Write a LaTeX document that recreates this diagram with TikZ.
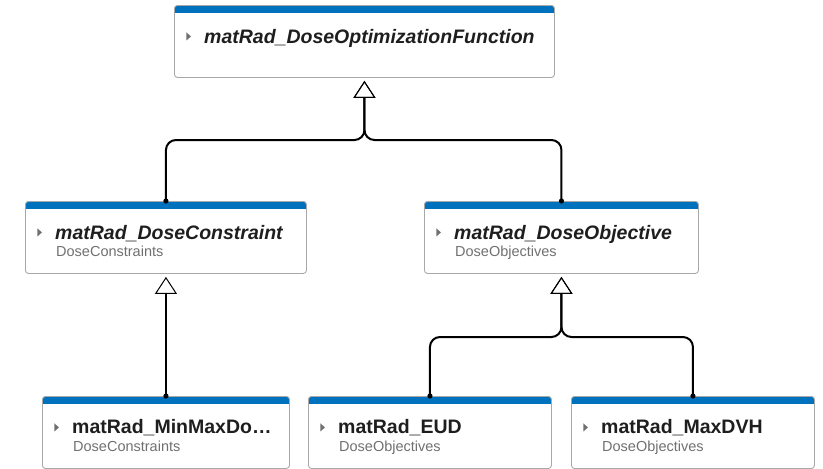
\documentclass[tikz,border=0pt]{standalone}
\usepackage{fontspec}
\setmainfont{Liberation Sans}
\usetikzlibrary{arrows.meta}
\definecolor{barblue}{HTML}{0072BD}
\definecolor{boxgray}{HTML}{A8A8A8}
\definecolor{subgray}{HTML}{707070}
\definecolor{titleblack}{HTML}{1E1E1E}

\begin{document}
\begin{tikzpicture}[x=1pt,y=-1pt,
    cls/.style={rectangle, draw=boxgray, line width=0.9pt, rounded corners=3pt, anchor=north west,
      minimum height=72pt, minimum width=#1, inner sep=0pt,
      path picture={
        \fill[barblue, sharp corners] (path picture bounding box.north west) rectangle ([yshift=-8pt]path picture bounding box.north east);
        \fill[subgray, sharp corners] ([xshift=12pt,yshift=-27pt]path picture bounding box.north west) -- ++(4.5pt,-4pt) -- ++(-4.5pt,-4pt) -- cycle;}},
    abs/.style={anchor=base west, inner sep=0pt, text=titleblack, font=\fontsize{19.5}{23}\selectfont\bfseries\itshape},
    con/.style={abs, font=\fontsize{19.5}{23}\selectfont\bfseries},
    pkg/.style={anchor=base west, inner sep=0pt, text=subgray, font=\fontsize{14.5}{17}\selectfont},
    gen/.style={line width=2pt, rounded corners=10pt, shorten >=3pt,
      -{Triangle[open, length=17pt, width=22pt, line width=1pt]}}]

  \useasboundingbox (0,0) rectangle (823,469);

  % classes
  \node[cls=380pt] (fn) at (174,5) {};
  \node[cls=281pt] (dc) at (25,201) {};
  \node[cls=274pt] (do) at (424,201) {};
  \node[cls=247pt] (mm) at (42,396) {};
  \node[cls=243pt] (eud) at (308,396) {};
  \node[cls=243pt] (mdvh) at (571,396) {};

  \node[abs] (fnT) at ([xshift=30pt,yshift=-38pt]fn.north west) {matRad\_DoseOptimizationFunction};

  \node[abs] (dcT) at ([xshift=30pt,yshift=-38pt]dc.north west) {matRad\_DoseConstraint};
  \node[pkg] (dcP) at ([xshift=31pt,yshift=-55pt]dc.north west) {DoseConstraints};

  \node[abs] (doT) at ([xshift=30pt,yshift=-38pt]do.north west) {matRad\_DoseObjective};
  \node[pkg] (doP) at ([xshift=31pt,yshift=-55pt]do.north west) {DoseObjectives};

  \node[con] (mmT) at ([xshift=30pt,yshift=-37pt]mm.north west) {matRad\_MinMaxDo…};
  \node[pkg] (mmP) at ([xshift=31pt,yshift=-55pt]mm.north west) {DoseConstraints};

  \node[con] (eudT) at ([xshift=30pt,yshift=-37pt]eud.north west) {matRad\_EUD};
  \node[pkg] (eudP) at ([xshift=31pt,yshift=-55pt]eud.north west) {DoseObjectives};

  \node[con] (mdvhT) at ([xshift=30pt,yshift=-37pt]mdvh.north west) {matRad\_MaxDVH};
  \node[pkg] (mdvhP) at ([xshift=31pt,yshift=-55pt]mdvh.north west) {DoseObjectives};

  % inheritance
  \coordinate (j1) at (fn.south |- 0,140);
  \coordinate (j2) at (do.south |- 0,337);

  \draw[gen] (dc.north) |- (j1) -- (fn.south);
  \draw[gen] (do.north) |- (j1) -- (fn.south);
  \draw[gen] (mm.north) -- (dc.south);
  \draw[gen] (eud.north) |- (j2) -- (do.south);
  \draw[gen] (mdvh.north) |- (j2) -- (do.south);

  \foreach \c in {dc,do,mm,eud,mdvh}
    \fill (\c.north) circle (2.6pt);

\end{tikzpicture}
\end{document}
